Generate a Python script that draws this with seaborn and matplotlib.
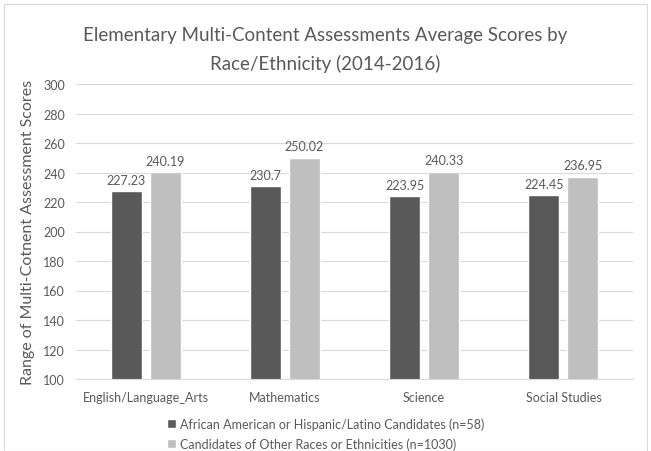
import matplotlib
matplotlib.use("Agg")
import matplotlib.pyplot as plt
import seaborn as sns
import pandas as pd
from matplotlib.patches import Rectangle

# Chart data
subjects = ["English/Language_Arts", "Mathematics", "Science", "Social Studies"]
groups = ["African American or Hispanic/Latino Candidates (n=58)",
          "Candidates of Other Races or Ethnicities (n=1030)"]
group1_scores = [227.23, 230.7, 223.95, 224.45]
group2_scores = [240.19, 250.02, 240.33, 236.95]
y_ticks = list(range(100, 301, 20))

df = pd.DataFrame({
    "Subject": subjects * 2,
    "Group": [groups[0]] * 4 + [groups[1]] * 4,
    "Score": group1_scores + group2_scores,
})

sns.set_style("white")
plt.rcParams["font.family"] = ["Lato", "DejaVu Sans"]
txt = "#595959"

fig = plt.figure(figsize=(6.51, 4.52), dpi=100)
ax = fig.add_axes([76 / 651, 1 - 380 / 452, 557 / 651, 295 / 452])

sns.barplot(data=df, x="Subject", y="Score", hue="Group",
            palette=["#595959", "#BFBFBF"], width=0.56, gap=0.2,
            ax=ax, legend=True)

ax.set_ylim(100, 300)
ax.set_yticks(y_ticks)
ax.grid(axis="y", color="#D9D9D9", linewidth=0.8)
ax.set_axisbelow(True)
for s in ["top", "right", "left"]:
    ax.spines[s].set_visible(False)
ax.spines["bottom"].set_color("#D9D9D9")
ax.tick_params(axis="both", length=0, colors=txt, labelsize=9)
ax.tick_params(axis="x", pad=9)
ax.tick_params(axis="y", pad=8)
ax.set_xlabel("")
ax.set_ylabel("Range of Multi-Cotnent Assessment Scores", color=txt, fontsize=11.5, labelpad=6)

for cont in ax.containers:
    ax.bar_label(cont, labels=[f"{v:g}" for v in cont.datavalues],
                 padding=4, color=txt, fontsize=9)

handles, labels = ax.get_legend_handles_labels()
ax.get_legend().remove()
fig.legend(handles, labels, loc="upper center", bbox_to_anchor=(0.5, 1 - 412 / 452),
           ncol=1, frameon=False, fontsize=9, labelcolor=txt, borderpad=0,
           handlelength=0.7, handleheight=0.7, handletextpad=0.3, labelspacing=0.6)

fig.suptitle("Elementary Multi-Content Assessments Average Scores by\nRace/Ethnicity (2014-2016)",
             x=0.5, y=1 - 27 / 452, va="top", fontsize=13.5, color=txt, linespacing=1.75)

fig.patches.append(Rectangle((4 / 651, 0), 1 - 8 / 651, 1 - 5 / 452, transform=fig.transFigure,
                             fill=False, edgecolor="#D9D9D9", linewidth=0.8))

fig.savefig("out.png", dpi=100)
